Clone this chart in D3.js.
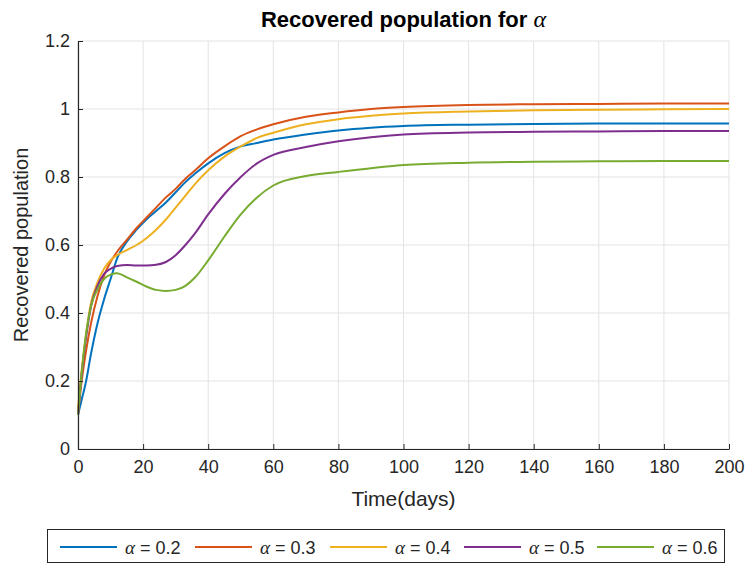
<!DOCTYPE html>
<html>
<head>
<meta charset="utf-8">
<script src="https://cdn.jsdelivr.net/npm/d3@7"></script>
<style>
  body { margin: 0; background: #fff; }
  svg { display: block; font-family: "Liberation Sans", Arial, sans-serif; }
</style>
</head>
<body>
<svg id="chart"></svg>
<script>
const width = 745, height = 564;

// time samples (days)
const days = [0, 1, 2.5, 4, 6, 8, 10, 12, 15, 18, 21, 24, 27, 30, 33, 36, 40, 45, 50, 55, 60, 70, 80, 90, 100, 120, 140, 160, 180, 200];

// recovered population, one array per alpha
const r02 = [0.1, 0.14, 0.2, 0.28, 0.37, 0.44, 0.5, 0.56, 0.61, 0.645, 0.675, 0.7, 0.725, 0.755, 0.785, 0.81, 0.84, 0.87, 0.89, 0.9, 0.91, 0.925, 0.937, 0.945, 0.95, 0.954, 0.956, 0.957, 0.957, 0.957];
const r03 = [0.1, 0.19, 0.29, 0.37, 0.45, 0.51, 0.55, 0.58, 0.615, 0.65, 0.68, 0.71, 0.74, 0.765, 0.795, 0.82, 0.855, 0.89, 0.92, 0.94, 0.955, 0.977, 0.99, 1.0, 1.006, 1.012, 1.014, 1.015, 1.016, 1.016];
const r04 = [0.12, 0.22, 0.34, 0.43, 0.49, 0.53, 0.555, 0.57, 0.585, 0.6, 0.62, 0.645, 0.675, 0.71, 0.745, 0.78, 0.82, 0.86, 0.89, 0.915, 0.93, 0.955, 0.97, 0.98, 0.987, 0.993, 0.996, 0.998, 0.999, 1.0];
const r05 = [0.1, 0.21, 0.33, 0.42, 0.48, 0.515, 0.53, 0.538, 0.541, 0.54, 0.54, 0.542, 0.55, 0.57, 0.6, 0.635, 0.69, 0.75, 0.8, 0.84, 0.865, 0.888, 0.905, 0.917, 0.925, 0.931, 0.933, 0.934, 0.935, 0.935];
const r06 = [0.1, 0.21, 0.34, 0.42, 0.47, 0.5, 0.513, 0.517, 0.505, 0.492, 0.478, 0.468, 0.465, 0.468, 0.48, 0.505, 0.555, 0.625, 0.69, 0.74, 0.775, 0.803, 0.815, 0.826, 0.835, 0.842, 0.845, 0.846, 0.847, 0.847];

const alphas = ["0.2", "0.3", "0.4", "0.5", "0.6"];
const seriesValues = [r02, r03, r04, r05, r06];
const colors = ["#0072BD", "#D95319", "#EDB120", "#7E2F8E", "#77AC30"];

const xTicks = [0, 20, 40, 60, 80, 100, 120, 140, 160, 180, 200];
const yTicks = [0, 0.2, 0.4, 0.6, 0.8, 1, 1.2];

const margin = {left: 78, right: 16, top: 41, bottom: 115};

const svg = d3.select("#chart")
    .attr("width", width)
    .attr("height", height);

const x = d3.scaleLinear().domain([0, 200]).range([margin.left, width - margin.right]);
const y = d3.scaleLinear().domain([0, 1.2]).range([height - margin.bottom, margin.top]);

// grid
const grid = svg.append("g");
grid.selectAll(".vg")
    .data(xTicks)
    .join("line")
    .attr("x1", d => x(d)).attr("x2", d => x(d))
    .attr("y1", y(0)).attr("y2", y(1.2))
    .attr("stroke", "#e3e3e3")
    .attr("stroke-width", 1);
grid.selectAll(".hg")
    .data(yTicks)
    .join("line")
    .attr("y1", d => y(d)).attr("y2", d => y(d))
    .attr("x1", x(0)).attr("x2", x(200))
    .attr("stroke", "#e3e3e3")
    .attr("stroke-width", 1);

// series
const line = d3.line()
    .x((d, i) => x(days[i]))
    .y(d => y(d))
    .curve(d3.curveMonotoneX);

svg.append("g")
    .selectAll("path")
    .data(seriesValues)
    .join("path")
    .attr("d", d => line(d))
    .attr("fill", "none")
    .attr("stroke", (d, i) => colors[i])
    .attr("stroke-width", 2);

// axes (ticks pointing inward, like matlab)
const xAxis = svg.append("g")
    .attr("transform", `translate(0,${y(0)})`)
    .call(d3.axisBottom(x).tickValues(xTicks).tickSizeInner(-5).tickSizeOuter(0).tickPadding(11));
const yAxis = svg.append("g")
    .attr("transform", `translate(${x(0)},0)`)
    .call(d3.axisLeft(y).tickValues(yTicks).tickSizeInner(-5).tickSizeOuter(0).tickPadding(8).tickFormat(d3.format("")));

[xAxis, yAxis].forEach(a => {
    a.select(".domain").attr("stroke", "#262626").attr("stroke-width", 1.2);
    a.selectAll(".tick line").attr("stroke", "#262626");
    a.selectAll(".tick text")
        .attr("fill", "#262626")
        .style("font-size", "18px")
        .style("font-family", "'Liberation Sans', Arial, sans-serif");
});

// title
const title = svg.append("text")
    .attr("x", (x(0) + x(200)) / 2)
    .attr("y", 27)
    .attr("text-anchor", "middle")
    .attr("fill", "#000")
    .style("font-size", "22px")
    .style("font-weight", "bold");
title.append("tspan").text("Recovered population for ");
title.append("tspan")
    .style("font-family", "'Liberation Serif', 'Times New Roman', serif")
    .style("font-style", "italic")
    .style("font-weight", "normal")
    .style("font-size", "24px")
    .text("α");

// axis labels
svg.append("text")
    .attr("x", (x(0) + x(200)) / 2)
    .attr("y", 506)
    .attr("text-anchor", "middle")
    .attr("fill", "#262626")
    .style("font-size", "21px")
    .text("Time(days)");

svg.append("text")
    .attr("transform", `translate(28,${(y(0) + y(1.2)) / 2}) rotate(-90)`)
    .attr("text-anchor", "middle")
    .attr("fill", "#262626")
    .style("font-size", "20px")
    .text("Recovered population");

// legend
const legend = svg.append("g");
legend.append("rect")
    .attr("x", 47.5).attr("y", 529.5)
    .attr("width", 677).attr("height", 33)
    .attr("fill", "#fff")
    .attr("stroke", "#262626")
    .attr("stroke-width", 1);

const legendX = [60, 195, 330, 464, 597];
const item = legend.selectAll(".item")
    .data(alphas)
    .join("g")
    .attr("transform", (d, i) => `translate(${legendX[i]},547)`);
item.append("line")
    .attr("x1", 0).attr("x2", 57)
    .attr("stroke", (d, i) => colors[i])
    .attr("stroke-width", 2);
const lt = item.append("text")
    .attr("x", 65)
    .attr("y", 6.5)
    .attr("fill", "#262626")
    .style("font-size", "18px");
lt.append("tspan")
    .style("font-family", "'Liberation Serif', 'Times New Roman', serif")
    .style("font-style", "italic")
    .style("font-size", "19px")
    .text("α");
lt.append("tspan").text(d => " = " + d);
</script>
</body>
</html>
